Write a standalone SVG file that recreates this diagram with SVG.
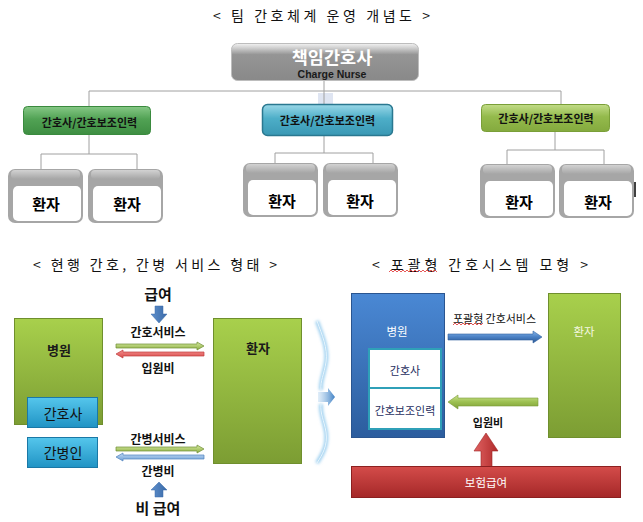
<svg xmlns="http://www.w3.org/2000/svg" xmlns:xlink="http://www.w3.org/1999/xlink" width="643" height="522" viewBox="0 0 643 522">
<style>
text{font-family:"Noto Sans CJK KR","Liberation Sans",sans-serif;dominant-baseline:central}
.title{font-size:14px;fill:#111}
.team{font-size:11px;font-weight:700;fill:#111;text-anchor:middle}
.pt{font-size:15px;font-weight:700;fill:#000;text-anchor:middle}
.lbl{font-size:12px;font-weight:700;fill:#111;text-anchor:middle}
.big{font-size:15px;font-weight:700;fill:#111;text-anchor:middle}
.conn line{stroke:#a0a0a0;stroke-width:1}
.sq{fill:none;stroke:#e03030;stroke-width:0.8}
</style>
<defs>
<linearGradient id="gCharge" x1="0" y1="0" x2="0" y2="1">
<stop offset="0" stop-color="#f2f2f2"/><stop offset="0.12" stop-color="#cfcfcf"/><stop offset="0.3" stop-color="#959595"/><stop offset="1" stop-color="#898989"/>
</linearGradient>
<linearGradient id="gTeamG" x1="0" y1="0" x2="0" y2="1">
<stop offset="0" stop-color="#86c886"/><stop offset="0.45" stop-color="#51a254"/><stop offset="1" stop-color="#3e8e42"/>
</linearGradient>
<linearGradient id="gTeamB" x1="0" y1="0" x2="0" y2="1">
<stop offset="0" stop-color="#9ad8e8"/><stop offset="0.45" stop-color="#4daec8"/><stop offset="1" stop-color="#3a98b4"/>
</linearGradient>
<linearGradient id="gTeamL" x1="0" y1="0" x2="0" y2="1">
<stop offset="0" stop-color="#c2dc88"/><stop offset="0.45" stop-color="#94ba4c"/><stop offset="1" stop-color="#84aa3e"/>
</linearGradient>
<linearGradient id="gGreyTop" x1="0" y1="0" x2="0" y2="1">
<stop offset="0" stop-color="#d2d2d2"/><stop offset="1" stop-color="#a6a6a6"/>
</linearGradient>
<linearGradient id="gLime" x1="0" y1="0" x2="0" y2="1">
<stop offset="0" stop-color="#a8d04c"/><stop offset="1" stop-color="#7c9d33"/>
</linearGradient>
<linearGradient id="gCyan" x1="0" y1="0" x2="0" y2="1">
<stop offset="0" stop-color="#55c6ec"/><stop offset="1" stop-color="#2093c4"/>
</linearGradient>
<linearGradient id="gBlueBox" x1="0" y1="0" x2="0" y2="1">
<stop offset="0" stop-color="#4a88d4"/><stop offset="1" stop-color="#2c5d9e"/>
</linearGradient>
<linearGradient id="gRed" x1="0" y1="0" x2="0" y2="1">
<stop offset="0" stop-color="#d44c4a"/><stop offset="1" stop-color="#a52828"/>
</linearGradient>
<linearGradient id="gRedArrow" x1="0" y1="0" x2="1" y2="0">
<stop offset="0" stop-color="#e06262"/><stop offset="1" stop-color="#b02a2a"/>
</linearGradient>
<linearGradient id="gArrowBlue" x1="0" y1="0" x2="0" y2="1">
<stop offset="0" stop-color="#86b6ea"/><stop offset="0.5" stop-color="#4a80c4"/><stop offset="1" stop-color="#2c5892"/>
</linearGradient>
<linearGradient id="gArrowGreen" x1="0" y1="0" x2="0" y2="1">
<stop offset="0" stop-color="#cbe28e"/><stop offset="0.5" stop-color="#9cc050"/><stop offset="1" stop-color="#7e9e38"/>
</linearGradient>
<linearGradient id="gThinGreen" x1="0" y1="0" x2="0" y2="1">
<stop offset="0" stop-color="#d6eaa0"/><stop offset="1" stop-color="#8cae42"/>
</linearGradient>
<linearGradient id="gThinRed" x1="0" y1="0" x2="0" y2="1">
<stop offset="0" stop-color="#f49090"/><stop offset="1" stop-color="#d84a48"/>
</linearGradient>
<linearGradient id="gThinBlue" x1="0" y1="0" x2="0" y2="1">
<stop offset="0" stop-color="#c2daf4"/><stop offset="1" stop-color="#6f9fd6"/>
</linearGradient>
<linearGradient id="gBlock" x1="0" y1="0" x2="1" y2="0">
<stop offset="0" stop-color="#5f90cc"/><stop offset="1" stop-color="#3a6aa8"/>
</linearGradient>
<linearGradient id="gWaveArrow" x1="0" y1="0" x2="1" y2="0">
<stop offset="0" stop-color="#9cc6ea" stop-opacity="0.3"/><stop offset="1" stop-color="#3f80c4"/>
</linearGradient>
<filter id="blur" x="-50%" y="-10%" width="200%" height="120%"><feGaussianBlur stdDeviation="1.6"/></filter>
<g id="pbox">
<rect x="0" y="0" width="75" height="54" rx="7" fill="#a6a6a6"/>
<rect x="3" y="1" width="69" height="9" rx="4" fill="url(#gGreyTop)"/>
<rect x="5" y="17" width="68" height="35" rx="5" fill="#ffffff"/>
</g>
</defs>
<rect width="643" height="522" fill="#ffffff"/>

<!-- Titles -->
<text class="title" x="213" y="15" textLength="217" lengthAdjust="spacing">&lt; 팀 간호체계 운영 개념도 &gt;</text>
<text class="title" x="33" y="264" textLength="244" lengthAdjust="spacing">&lt; 현행 간호, 간병 서비스 형태 &gt;</text>
<text class="title" x="372" y="264" textLength="216" lengthAdjust="spacing">&lt; 포괄형 간호시스템 모형 &gt;</text>
<polyline class="sq" points="389,272 391,270 393,272 395,270 397,272 399,270 401,272 403,270 405,272 407,270 409,272 411,270 413,272 415,270 417,272 419,270 421,272 423,270 425,272 427,270 429,272 431,270 433,272 435,270 437,272"/>

<!-- Connectors -->
<g id="connectors" class="conn">
<rect x="318" y="93" width="15" height="11" fill="#dfe5f2"/>
<line x1="324" y1="81" x2="324" y2="104"/>
<line x1="89" y1="91" x2="561" y2="91"/>
<line x1="89" y1="91" x2="89" y2="106"/>
<line x1="561" y1="91" x2="561" y2="104"/>
<line x1="89" y1="135" x2="89" y2="154"/>
<line x1="41" y1="154" x2="137" y2="154"/>
<line x1="41" y1="154" x2="41" y2="169"/>
<line x1="137" y1="154" x2="137" y2="169"/>
<line x1="324" y1="136" x2="324" y2="153"/>
<line x1="275" y1="153" x2="373" y2="153"/>
<line x1="275" y1="153" x2="275" y2="163"/>
<line x1="373" y1="153" x2="373" y2="163"/>
<line x1="555" y1="132" x2="555" y2="150"/>
<line x1="507" y1="150" x2="604" y2="150"/>
<line x1="507" y1="150" x2="507" y2="164"/>
<line x1="604" y1="150" x2="604" y2="164"/>
</g>

<!-- Top org chart -->
<g id="charge-nurse">
<rect x="231.5" y="43.5" width="187" height="37" rx="6" fill="url(#gCharge)" stroke="#bdbdbd"/>
<text x="332" y="56.5" text-anchor="middle" style="font-size:17.5px;font-weight:700;fill:#ffffff">책임간호사</text>
<text x="332" y="74" text-anchor="middle" style="font-family:'Liberation Sans',Arial,sans-serif;font-size:10.5px;font-weight:700;fill:#1a1a1a">Charge Nurse</text>
</g>
<g id="team-green">
<rect x="23.5" y="106.5" width="127" height="28" rx="4" fill="url(#gTeamG)" stroke="#3a8a3e"/>
<text class="team" x="89.5" y="122">간호사/간호보조인력</text>
</g>
<g id="team-blue">
<rect x="262.5" y="104.5" width="130" height="31" rx="5" fill="url(#gTeamB)" stroke="#2a7890" stroke-width="1.5"/>
<text class="team" x="327.5" y="120">간호사/간호보조인력</text>
</g>
<g id="team-lime">
<rect x="481.5" y="104.5" width="128" height="27" rx="4" fill="url(#gTeamL)" stroke="#7a9f38"/>
<text class="team" x="546" y="118">간호사/간호보조인력</text>
</g>

<g id="patient-1" transform="translate(8,169)"><use xlink:href="#pbox"/><text class="pt" x="38" y="34">환자</text></g>
<g id="patient-2" transform="translate(88,169)"><use xlink:href="#pbox"/><text class="pt" x="39" y="34">환자</text></g>
<g id="patient-3" transform="translate(243,163)"><use xlink:href="#pbox"/><text class="pt" x="39" y="37">환자</text></g>
<g id="patient-4" transform="translate(323,163)"><use xlink:href="#pbox"/><text class="pt" x="37" y="37">환자</text></g>
<g id="patient-5" transform="translate(480,164)"><use xlink:href="#pbox"/><text class="pt" x="39" y="37">환자</text></g>
<g id="patient-6" transform="translate(559,164)"><use xlink:href="#pbox"/><text class="pt" x="39" y="37">환자</text></g>
<line x1="635" y1="182" x2="635" y2="197" stroke="#000" stroke-width="1.5"/>

<!-- Bottom left: current -->
<g id="cur-hospital">
<rect x="14.5" y="318.5" width="88" height="106" fill="url(#gLime)" stroke="#6f8f2d"/>
<text x="59" y="349" text-anchor="middle" style="font-size:13px;font-weight:700;fill:#1a1a1a">병원</text>
</g>
<g id="cur-nurse">
<rect x="27.5" y="397.5" width="70" height="30" fill="url(#gCyan)" stroke="#1a78a6"/>
<text x="63" y="413" text-anchor="middle" style="font-size:14px;fill:#111">간호사</text>
</g>
<g id="cur-caregiver">
<rect x="27.5" y="437.5" width="70" height="30" fill="url(#gCyan)" stroke="#1a78a6"/>
<text x="63" y="452" text-anchor="middle" style="font-size:14px;fill:#111">간병인</text>
</g>
<g id="cur-patient">
<rect x="213.5" y="318.5" width="88" height="145" fill="url(#gLime)" stroke="#6f8f2d"/>
<text x="258" y="347" text-anchor="middle" style="font-size:13px;font-weight:700;fill:#1a1a1a">환자</text>
</g>
<g id="cur-flows">
<text class="big" x="158" y="293">급여</text>
<polygon points="155,306 163,306 163,314 167,314 159,323 151,314 155,314" fill="url(#gBlock)" stroke="#3a6aa8" stroke-width="0.5"/>
<text class="lbl" x="158" y="331">간호서비스</text>
<polygon points="116,344 197,344 197,342 204,346 197,350 197,348 116,348" fill="url(#gThinGreen)" stroke="#6e8c34" stroke-width="0.7"/>
<polygon points="204,352 123,352 123,350 116,354 123,358 123,356 204,356" fill="url(#gThinRed)" stroke="#c03c3c" stroke-width="0.7"/>
<text class="lbl" x="158" y="367">입원비</text>
<text class="lbl" x="158" y="438">간병서비스</text>
<polygon points="116,447 197,447 197,445 204,449 197,453 197,451 116,451" fill="url(#gThinGreen)" stroke="#6e8c34" stroke-width="0.7"/>
<polygon points="204,455 123,455 123,453 116,457 123,461 123,459 204,459" fill="url(#gThinBlue)" stroke="#4f81bd" stroke-width="0.7"/>
<text class="lbl" x="158" y="470">간병비</text>
<polygon points="159,482 167,490 163,490 163,497 155,497 155,490 151,490" fill="url(#gBlock)" stroke="#3a6aa8" stroke-width="0.5"/>
<text class="big" x="158" y="507">비 급여</text>
</g>

<!-- Transition wave arrow -->
<g id="transition">
<path d="M317,321 C322,335 328,348 326,362 C324,375 320,381 321,390 M321,404 C320,414 324,420 326,432 C328,446 322,455 317,463" fill="none" stroke="#9fd0f0" stroke-width="4" filter="url(#blur)"/>
<path d="M317,321 C322,335 328,348 326,362 C324,375 320,381 321,390 M321,404 C320,414 324,420 326,432 C328,446 322,455 317,463" fill="none" stroke="#e8f5fd" stroke-width="1"/>
<polygon points="318,392 328,392 328,388 335,397 328,406 328,402 318,402" fill="url(#gWaveArrow)"/>
</g>

<!-- Bottom right: integrated -->
<g id="new-hospital">
<rect x="351.5" y="293.5" width="93" height="144" fill="url(#gBlueBox)" stroke="#2a5590"/>
<text x="397" y="331" text-anchor="middle" style="font-size:11.5px;fill:#ffffff">병원</text>
</g>
<g id="new-nurse">
<rect x="369" y="349" width="72" height="39" fill="#ffffff" stroke="#2fa0b8" stroke-width="2"/>
<text x="405" y="370" text-anchor="middle" style="font-size:11px;fill:#1f2f5f">간호사</text>
</g>
<g id="new-aide">
<rect x="369" y="388" width="72" height="41" fill="#ffffff" stroke="#2fa0b8" stroke-width="2"/>
<text x="405" y="410" text-anchor="middle" style="font-size:11px;fill:#1f2f5f">간호보조인력</text>
</g>
<g id="new-patient">
<rect x="548.5" y="293.5" width="72" height="144" fill="url(#gLime)" stroke="#6f8f2d"/>
<text x="584" y="331" text-anchor="middle" style="font-size:11.5px;fill:#f4f8e0">환자</text>
</g>
<g id="new-flows">
<text x="453" y="318" textLength="83" lengthAdjust="spacing" style="font-size:11px;fill:#111">포괄형 간호서비스</text>
<polyline class="sq" points="453,325 455,323 457,325 459,323 461,325 463,323 465,325 467,323 469,325 471,323 473,325 475,323 477,325 479,323 481,325 483,323"/>
<polygon points="448,334 533,334 533,331 542,337 533,343 533,340 448,340" fill="url(#gArrowBlue)" stroke="#2f5f9f" stroke-width="0.6"/>
<polygon points="538,398 458,398 458,395 448,402 458,409 458,406 538,406" fill="url(#gArrowGreen)" stroke="#7a9a38" stroke-width="0.6"/>
<text x="488" y="422" text-anchor="middle" style="font-size:11px;font-weight:700;fill:#111">입원비</text>
<polygon points="486,433 498,451 492,451 492,468 481,468 481,451 474,451" fill="url(#gRedArrow)" stroke="#a02424" stroke-width="0.6"/>
</g>
<g id="insurance">
<rect x="351.5" y="466.5" width="269" height="31" fill="url(#gRed)" stroke="#8c2020"/>
<text x="486" y="482" text-anchor="middle" style="font-size:11.5px;fill:#ffffff">보험급여</text>
</g>
</svg>
